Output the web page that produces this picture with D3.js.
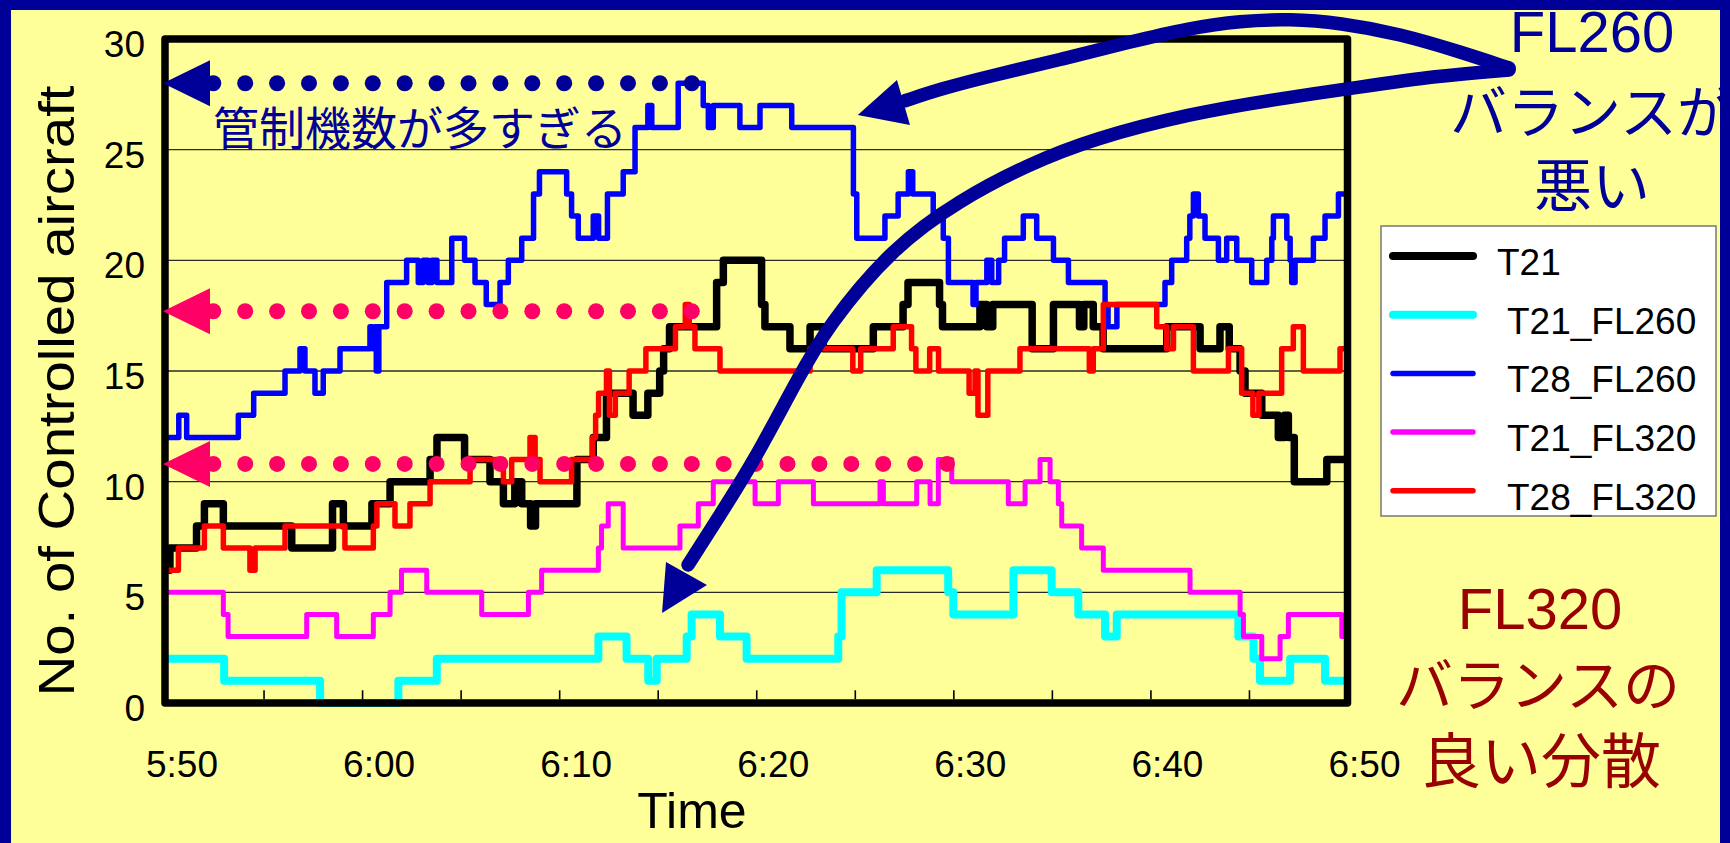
<!DOCTYPE html>
<html>
<head>
<meta charset="utf-8">
<script src="https://cdn.jsdelivr.net/npm/d3@7"></script>
<style>
  html, body { margin: 0; padding: 0; background: #FFFF99; }
  svg { display: block; }
</style>
</head>
<body>
<svg id="chart" width="1730" height="843"></svg>
<script>
// Each series: [minutes after 5:50, number of controlled aircraft from then on]
const t21 = [[0,6],[0.25,7],[1.6,8],[2.0,9],[2.96,8],[6.43,7],[8.5,9],[9.05,8],[10.5,9],[11.42,10],[13.45,11],[13.8,12],[15.2,11],[16.49,10],[17.17,9],[17.75,10],[18.1,9],[18.55,8],[18.8,9],[20.9,11],[21.73,12],[22.4,14],[23.75,13],[24.5,14],[25.1,15],[25.3,16],[25.6,17],[27.99,19],[28.33,20],[30.27,18],[30.44,17],[31.71,16],[32.73,17],[33.4,16],[35.94,17],[37.45,18],[37.7,19],[39.3,18],[39.45,17],[41.35,18],[41.7,17],[42.0,18],[44.0,16],[45.08,18],[46.4,17],[46.62,18],[47.1,17],[47.6,16],[50.83,17],[52.52,16],[53.53,17],[54.0,16],[54.55,15],[54.8,14],[55.65,13],[56.49,12],[56.8,13],[57.0,12],[57.3,10],[58.95,11]];
const t21Fl260 = [[0,2],[3.0,1],[7.87,0],[11.84,1],[13.79,2],[21.99,3],[23.42,2],[24.52,1],[24.95,2],[26.47,3],[26.72,4],[28.16,3],[29.51,2],[34.16,3],[34.33,5],[36.11,6],[39.74,5],[40.0,4],[43.05,6],[44.99,5],[46.34,4],[47.7,3],[48.29,4],[54.46,3],[55.23,2],[55.56,1],[57.09,2],[58.86,1]];
const t28Fl260 = [[0,12],[0.7,13],[1.1,12],[3.72,13],[4.5,14],[6.09,15],[6.85,16],[7.1,15],[7.61,14],[8.03,15],[8.88,16],[10.4,17],[10.55,16],[10.65,17],[10.72,15],[10.85,17],[11.25,19],[12.26,20],[12.85,19],[13.1,20],[13.35,19],[13.55,20],[13.8,19],[14.55,21],[15.2,20],[15.73,19],[16.3,18],[17.0,19],[17.42,20],[18.1,21],[18.7,23],[19.0,24],[20.38,23],[20.63,22],[20.97,21],[21.73,22],[22.0,21],[22.45,23],[23.25,24],[23.85,26],[24.5,27],[24.7,26],[26.04,28],[27.31,27],[27.57,26],[27.82,27],[29.17,26],[30.19,27],[31.8,26],[34.93,23],[35.1,21],[36.53,22],[37.2,23],[37.72,24],[37.94,23],[38.98,22],[39.49,21],[39.75,19],[41.0,18],[41.15,19],[41.7,20],[41.95,19],[42.3,20],[42.6,21],[43.55,22],[44.23,21],[45.08,20],[45.84,19],[47.7,18],[47.85,17],[48.3,18],[50.74,19],[51.08,20],[51.84,21],[52.0,22],[52.18,23],[52.43,22],[52.77,21],[53.45,20],[53.87,21],[54.38,20],[55.14,19],[55.9,20],[56.16,21],[56.24,22],[56.92,21],[57.09,20],[57.17,19],[57.34,20],[58.27,21],[58.86,22],[59.54,23]];
const t21Fl320 = [[0,5],[2.96,4],[3.2,3],[7.19,4],[8.71,3],[10.57,4],[11.42,5],[12.0,6],[13.28,5],[16.07,4],[18.44,5],[19.11,6],[21.99,7],[22.15,8],[22.49,9],[23.25,7],[26.13,8],[27.06,9],[27.82,10],[29.94,9],[31.12,10],[32.9,9],[36.28,10],[36.45,9],[38.14,10],[38.82,9],[39.24,11],[39.92,10],[42.79,9],[43.64,10],[44.4,11],[44.91,10],[45.33,9],[45.5,8],[46.51,7],[47.61,6],[52.01,5],[54.55,4],[54.72,3],[55.65,2],[56.58,3],[57.0,4],[59.71,3]];
const t28Fl320 = [[0,6],[0.68,7],[2.0,8],[2.96,7],[4.31,6],[4.57,7],[6.09,8],[9.13,7],[10.57,8],[10.75,9],[11.67,8],[12.43,9],[13.45,10],[15.48,11],[17.17,10],[17.59,11],[18.52,12],[18.78,11],[19.03,10],[20.63,11],[21.7,12],[21.85,13],[22.0,14],[22.4,15],[22.55,13],[22.85,14],[23.55,15],[24.4,16],[25.9,17],[26.4,18],[26.6,17],[26.89,16],[28.16,15],[32.73,16],[34.9,15],[35.3,16],[36.95,17],[37.88,16],[38.1,15],[38.8,16],[39.25,15],[40.8,14],[41.1,15],[41.25,13],[41.75,15],[43.38,16],[46.9,15],[47.1,16],[47.61,18],[50.32,17],[50.83,16],[51.17,17],[52.18,15],[53.96,16],[54.63,14],[55.2,13],[55.5,14],[56.66,16],[57.25,17],[57.76,15],[59.62,16]];

const seriesNames = ["T21", "T21_FL260", "T28_FL260", "T21_FL320", "T28_FL320"];
const timeLabels = ["5:50", "6:00", "6:10", "6:20", "6:30", "6:40", "6:50"];
const yTickValues = [0, 5, 10, 15, 20, 25, 30];
const minorTickMinutes = d3.range(5, 60, 5);

// Dotted reference levels drawn from the y axis: [level, end minute]
const guideLevels = [[28, 26.7], [17.7, 26.7], [10.8, 39.7]];
// Curved call-out arrows from the FL260 note, in (minute, count) units
const arrowUpper = [[68.2,28.69],[65.71,29.42],[62.66,30.23],[59.62,30.73],[57.08,30.91],[54.55,30.82],[52.01,30.5],[48.96,29.87],[45.41,29.06],[41.86,28.33],[39.33,27.74],[37.55,27.21]];
const arrowUpperHead = [[35.15,26.57],[37.14,28.15],[37.8,26.12]];
const arrowLower = [[68.2,28.6],[64.49,28.33],[60.63,27.83],[56.07,27.24],[52.16,26.65],[47.09,25.5],[43.74,24.31],[40.34,22.73],[36.94,20.61],[33.59,16.99],[32.07,14.6],[29.84,10.85],[28.16,8.5],[26.54,6.24]];
const arrowLowerHead = [[25.22,4.07],[25.42,6.37],[27.5,5.33]];

const styles = [
  { color: "#000000", width: 7.5, key: 8 },
  { color: "#00FFFF", width: 8,   key: 8 },
  { color: "#0000FF", width: 5.5, key: 5.5 },
  { color: "#FF00FF", width: 5,   key: 5.5 },
  { color: "#FF0000", width: 5.5, key: 5.5 }
];
const seriesData = [t21, t21Fl260, t28Fl260, t21Fl320, t28Fl320];

const NAVY = "#000099", PINK = "#FF0066", DARKRED = "#990000";
const LATIN = "'Liberation Sans', Arial, sans-serif";
const CJK = "'Noto Sans CJK JP', sans-serif";

const svg = d3.select("#chart");
const x = d3.scaleLinear().domain([0, 60]).range([165, 1347.5]);
const y = d3.scaleLinear().domain([0, 30]).range([703, 39]);

svg.append("rect").attr("width", 1730).attr("height", 843).attr("fill", "#FFFF99");

// horizontal gridlines
svg.append("g").selectAll("line").data(yTickValues.filter(v => v > 0 && v < 30)).join("line")
  .attr("x1", x(0)).attr("x2", x(60))
  .attr("y1", d => y(d)).attr("y2", d => y(d))
  .attr("stroke", "#2a2a2a").attr("stroke-width", 1.3);

// step lines
const line = d3.line().x(d => x(d[0])).y(d => y(d[1])).curve(d3.curveStepAfter);
svg.append("g").selectAll("path").data(seriesData).join("path")
  .attr("d", d => line(d.concat([[60, d[d.length - 1][1]]])))
  .attr("fill", "none")
  .attr("stroke", (d, i) => styles[i].color)
  .attr("stroke-width", (d, i) => styles[i].width)
  .attr("stroke-linejoin", "round");

// plot frame
svg.append("rect")
  .attr("x", x(0)).attr("y", y(30))
  .attr("width", x(60) - x(0)).attr("height", y(0) - y(30))
  .attr("fill", "none").attr("stroke", "#000").attr("stroke-width", 7.5)
  .attr("stroke-linejoin", "round");

// inward 5-minute ticks on the time axis
const xAxis = svg.append("g").attr("transform", `translate(0,${y(0) - 3.7})`)
  .call(d3.axisBottom(x).tickValues(minorTickMinutes).tickSize(-9).tickFormat(""));
xAxis.select(".domain").remove();
xAxis.selectAll(".tick line").attr("stroke", "#000").attr("stroke-width", 1.6);

svg.append("g").selectAll("text").data(timeLabels).join("text")
  .attr("x", (d, i) => x(i * 10) + 17).attr("y", 777)
  .attr("text-anchor", "middle")
  .attr("font-family", LATIN).attr("font-size", 37).attr("fill", "#000")
  .text(d => d);

svg.append("g").selectAll("text").data(yTickValues).join("text")
  .attr("x", 145).attr("y", d => y(d) + 18)
  .attr("text-anchor", "end")
  .attr("font-family", LATIN).attr("font-size", 37).attr("fill", "#000")
  .text(d => d);

svg.append("text")
  .attr("transform", "translate(74,391) rotate(-90)")
  .attr("text-anchor", "middle")
  .attr("font-family", LATIN).attr("font-size", 50)
  .attr("textLength", 611).attr("lengthAdjust", "spacingAndGlyphs")
  .text("No. of Controlled aircraft");

svg.append("text")
  .attr("x", 692).attr("y", 828).attr("text-anchor", "middle")
  .attr("font-family", LATIN).attr("font-size", 50)
  .text("Time");

// dotted reference levels with arrowheads at the y axis
guideLevels.forEach(([level, end], i) => {
  const col = i === 0 ? NAVY : PINK;
  const yy = y(level), x0 = x(0);
  const g = svg.append("g").attr("fill", col);
  g.append("path").attr("d", `M${x0 - 2},${yy} L${x0 + 45},${yy - 23} L${x0 + 45},${yy + 23} Z`);
  g.selectAll("circle").data(d3.range(x0 + 48.3, x(end) + 1, 31.9)).join("circle")
    .attr("cx", d => d).attr("cy", yy).attr("r", 8);
});

svg.append("text")
  .attr("x", 213).attr("y", 145)
  .attr("font-family", CJK).attr("font-size", 46).attr("fill", NAVY)
  .text("管制機数が多すぎる");

// call-out arrows
const curve = d3.line().x(d => x(d[0])).y(d => y(d[1])).curve(d3.curveBasis);
[[arrowUpper, arrowUpperHead], [arrowLower, arrowLowerHead]].forEach(([pts, head]) => {
  svg.append("path").attr("d", curve(pts))
    .attr("fill", "none").attr("stroke", NAVY).attr("stroke-width", 13.5)
    .attr("stroke-linecap", "round");
  svg.append("path")
    .attr("d", "M" + head.map(p => `${x(p[0])},${y(p[1])}`).join("L") + "Z")
    .attr("fill", NAVY);
});

// side notes
const notes = [
  { t: "FL260", x: 1592, y: 52, f: LATIN, s: 58, c: NAVY },
  { t: "バランスが", x: 1592, y: 133, f: CJK, s: 57, c: NAVY },
  { t: "悪い", x: 1592, y: 207, f: CJK, s: 58, c: NAVY },
  { t: "FL320", x: 1540, y: 629, f: LATIN, s: 58, c: DARKRED },
  { t: "バランスの", x: 1538, y: 706, f: CJK, s: 57, c: DARKRED },
  { t: "良い分散", x: 1541, y: 783, f: CJK, s: 60, c: DARKRED }
];
svg.append("g").selectAll("text").data(notes).join("text")
  .attr("x", d => d.x).attr("y", d => d.y).attr("text-anchor", "middle")
  .attr("font-family", d => d.f).attr("font-size", d => d.s).attr("fill", d => d.c)
  .text(d => d.t);

// legend
const lg = svg.append("g");
lg.append("rect").attr("x", 1381).attr("y", 226).attr("width", 335).attr("height", 290)
  .attr("fill", "#fff").attr("stroke", "#777").attr("stroke-width", 1.5);
seriesNames.forEach((name, i) => {
  const ly = 256 + i * 58.7;
  lg.append("line").attr("x1", 1393).attr("x2", 1473).attr("y1", ly).attr("y2", ly)
    .attr("stroke", styles[i].color).attr("stroke-width", styles[i].key)
    .attr("stroke-linecap", "round");
  lg.append("text").attr("x", i === 0 ? 1497 : 1507).attr("y", ly + 19)
    .attr("font-family", LATIN).attr("font-size", 37).attr("fill", "#000")
    .text(name);
});

// slide border
svg.append("rect").attr("x", 0).attr("y", 0).attr("width", 11).attr("height", 843).attr("fill", NAVY);
svg.append("rect").attr("x", 0).attr("y", 0).attr("width", 1730).attr("height", 10).attr("fill", NAVY);
svg.append("rect").attr("x", 1720).attr("y", 0).attr("width", 10).attr("height", 843).attr("fill", NAVY);
</script>
</body>
</html>
